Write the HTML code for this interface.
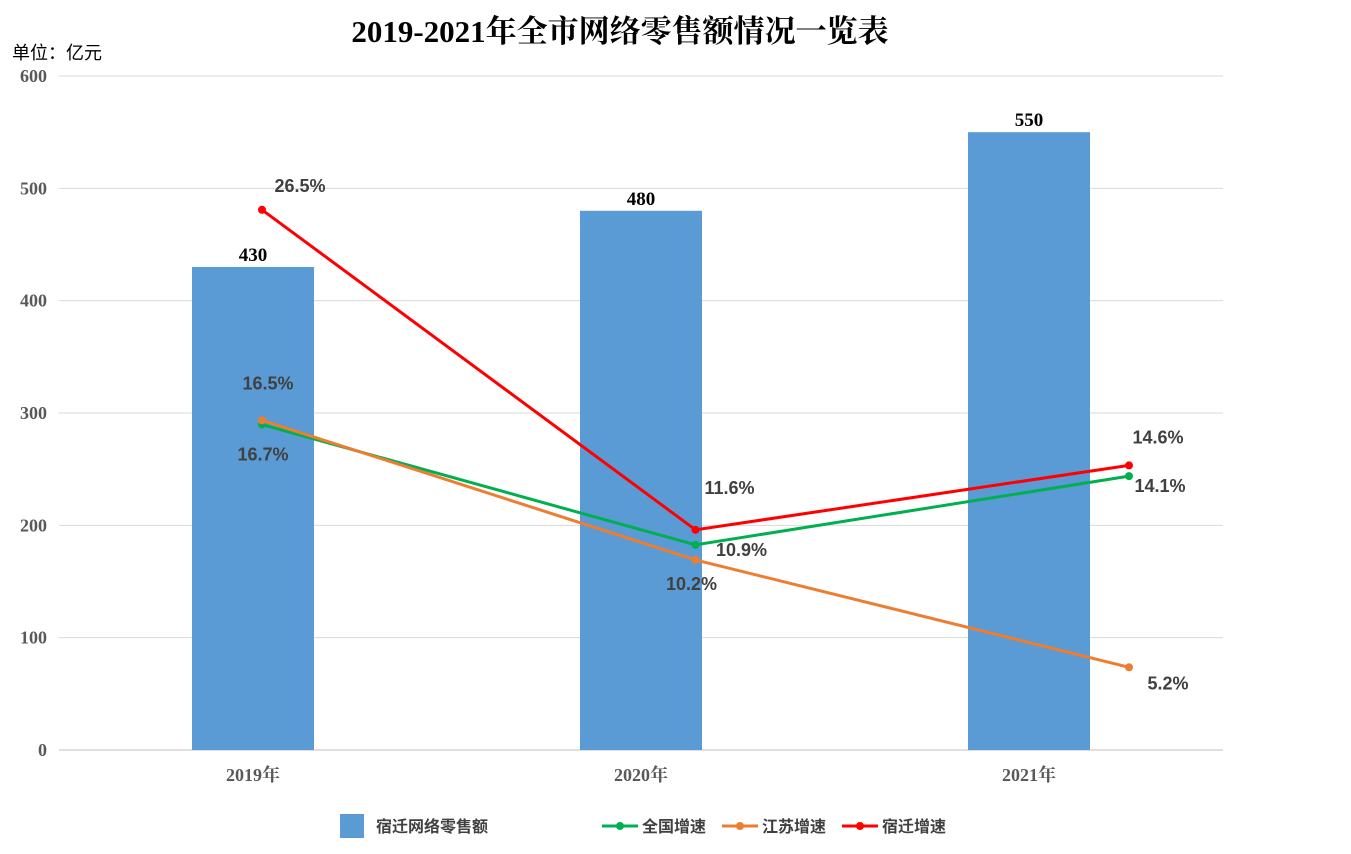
<!DOCTYPE html>
<html><head><meta charset="utf-8"><style>
body{margin:0;background:#fff;width:1351px;height:849px;overflow:hidden}
svg text{font-family:"Liberation Serif","Noto Serif CJK SC",serif}
.s{font-family:"Liberation Sans","Noto Sans CJK SC",sans-serif !important}
</style></head><body>
<svg id="c" width="1351" height="849">
<text x="620" y="42" text-anchor="middle" font-size="31" font-weight="bold" fill="#000">2019-2021年全市网络零售额情况一览表</text>
<text class="s" x="12" y="59" font-size="18" fill="#000">单位：亿元</text>
<g id="grid"></g><g id="bars"></g><g id="lines"></g>
<g>
<rect x="340" y="814" width="24" height="24" fill="#5b9bd5"/>
<text class="s" x="376" y="832" font-size="16" font-weight="bold" fill="#404040">宿迁网络零售额</text>
<line x1="602" y1="826" x2="638" y2="826" stroke="#00b050" stroke-width="3"/><circle cx="620" cy="826" r="4" fill="#00b050"/>
<text class="s" x="642" y="832" font-size="16" font-weight="bold" fill="#404040">全国增速</text>
<line x1="722" y1="826" x2="758" y2="826" stroke="#ed7d31" stroke-width="3"/><circle cx="740" cy="826" r="4" fill="#ed7d31"/>
<text class="s" x="762" y="832" font-size="16" font-weight="bold" fill="#404040">江苏增速</text>
<line x1="842" y1="826" x2="878" y2="826" stroke="#ff0000" stroke-width="3"/><circle cx="860" cy="826" r="4" fill="#ff0000"/>
<text class="s" x="882" y="832" font-size="16" font-weight="bold" fill="#404040">宿迁增速</text>
</g>
</svg>
<script>
const categories=["2019年","2020年","2021年"];
const sales=[430,480,550];
const national=[16.5,10.9,14.1];
const jiangsu=[16.7,10.2,5.2];
const suqian=[26.5,11.6,14.6];
const yTicks=[0,100,200,300,400,500,600];
const NS="http://www.w3.org/2000/svg";
function mk(t,a,p){const e=document.createElementNS(NS,t);for(const k in a)e.setAttribute(k,a[k]);p.appendChild(e);return e;}
const L=59,R=1223,T=76,B=750;
const y=v=>B-(v/600)*(B-T);
const yr=v=>779-v*21.48;
const bw=(R-L)/categories.length;
const xb=i=>L+bw*(i+0.5);
const xl=i=>262+i*433.5;
const grid=document.getElementById('grid');
yTicks.forEach(t=>{
 const l=mk('line',{x1:L,x2:R,y1:y(t),y2:y(t),stroke:t?'#d9d9d9':'#bfbfbf','stroke-width':1},grid);
 
 
 const tx=mk('text',{x:47,y:y(t)+6,'text-anchor':'end','font-size':18,'font-weight':'bold',fill:'#595959'},grid);tx.textContent=t;
 
 
});
const bars=document.getElementById('bars');
categories.forEach((c,i)=>{
 const r=mk('rect',{x:xb(i)-61,y:y(sales[i]),width:122,height:B-y(sales[i]),fill:'#5b9bd5'},bars);
 
 
 const v=mk('text',{x:xb(i),y:y(sales[i])-6,'text-anchor':'middle','font-size':19,'font-weight':'bold',fill:'#000'},bars);v.textContent=sales[i];
 
 
 const cl=mk('text',{x:xb(i),y:781,'text-anchor':'middle','font-size':18,'font-weight':'bold',fill:'#595959'},bars);cl.textContent=c;
 
 
});
const lines=document.getElementById('lines');
const series=[
 {name:'national',d:national,c:'#00b050',off:[[6,-41],[46,5],[31,10]]},
 {name:'jiangsu',d:jiangsu,c:'#ed7d31',off:[[1,34],[-4,24],[39,16]]},
 {name:'suqian',d:suqian,c:'#ff0000',off:[[38,-24],[34,-42],[29,-28]]}];
series.forEach(s=>{
 const p=mk('polyline',{points:s.d.map((v,i)=>xl(i)+','+yr(v)).join(' '),fill:'none',stroke:s.c,'stroke-width':3},lines);
 
 
 s.d.forEach((v,i)=>{
  const c=mk('circle',{cx:xl(i),cy:yr(v),r:4,fill:s.c},lines);
  
  
  const t=mk('text',{class:'s',x:xl(i)+s.off[i][0],y:yr(v)+s.off[i][1]+6,'text-anchor':'middle','font-size':18,'font-weight':'bold',fill:'#404040'},lines);
  t.textContent=v.toFixed(1)+'%';
  
  
 });
});
</script>
</body></html>
